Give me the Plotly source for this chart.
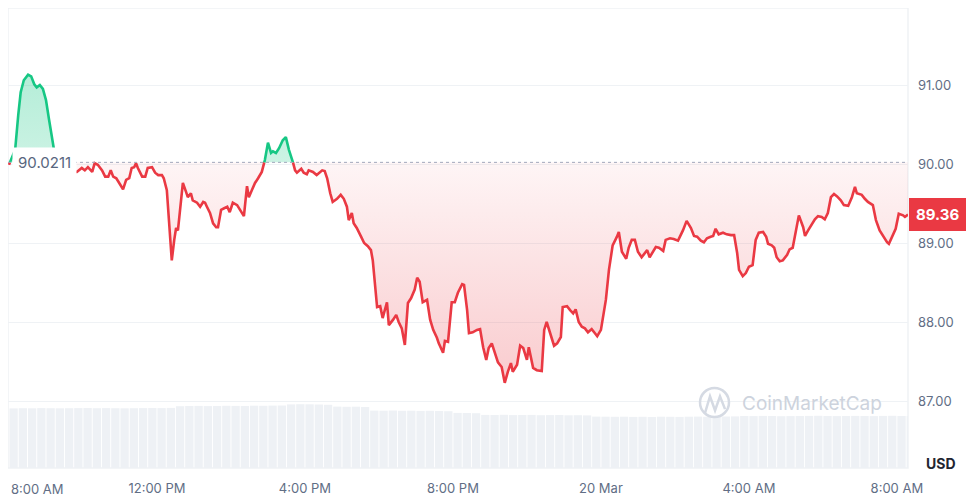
import numpy as np
import pandas as pd
import plotly.graph_objects as go

# ----------------------------------
# DATA
# ----------------------------------

START = pd.Timestamp("2025-03-19 08:00")
OPEN_PRICE = 90.0211
LAST_PRICE = 89.36

# minutes after 08:00 on 19 Mar
minutes = [
    0, 10, 15, 19, 24, 31, 36, 41, 45, 50, 55, 60, 65, 70, 73, 79, 89, 99, 105, 110,
    118, 123, 128, 135, 139, 144, 151, 156, 161, 165, 169, 174, 178, 185, 190, 195, 199, 203, 206, 209,
    216, 221, 225, 232, 237, 242,
    248, 251, 256, 258, 261, 264, 268, 271, 274, 279, 282, 287, 290, 295, 298, 305, 310, 315, 318, 321,
    326, 331, 336, 339, 344, 349, 354, 358, 363, 370, 373, 378, 381, 386, 389, 394, 399, 404, 410, 415,
    420, 425, 428, 433, 438, 444, 449, 454, 461, 464, 467, 474, 478, 483, 486,
    493, 499, 508, 512, 516, 521, 525, 532, 538, 543, 548, 551, 556, 559, 564, 571, 576, 582, 587, 590,
    594, 597, 602, 606, 613, 616, 623, 628, 632, 637, 642, 647, 652, 658, 662, 666, 671, 678, 683, 688,
    694, 697, 704, 707, 712, 718, 723, 728,
    735, 738, 743, 746, 752, 759, 764, 769, 774, 778, 783, 788, 793, 799, 804, 809, 814, 817, 824, 829,
    834, 840, 843, 850, 856, 864, 868, 872, 879, 884, 889, 895, 898, 905, 910, 915, 919, 924, 929, 934,
    939, 945, 950, 954, 960, 963, 968, 973,
    975, 979, 986, 989, 994, 1001, 1005, 1010, 1015, 1020, 1026, 1031, 1035, 1039, 1044, 1049, 1054, 1061, 1065, 1072,
    1078, 1085, 1093, 1099, 1106, 1111, 1116, 1122, 1127, 1132, 1138, 1142, 1146, 1151, 1158, 1164, 1171, 1176, 1181, 1184,
    1190, 1195, 1200, 1206, 1211, 1216,
    1223, 1228, 1231, 1237, 1241, 1245, 1250, 1255, 1262, 1266, 1271, 1281, 1288, 1291, 1296, 1302, 1307, 1312, 1318, 1323,
    1328, 1333, 1338, 1343, 1349, 1354, 1361, 1367, 1372, 1375, 1383, 1388, 1393, 1401, 1406, 1412, 1417, 1424, 1427, 1434,
    1438, 1443, 1450, 1453, 1458,
]

prices = [
    89.99, 90.18, 90.62, 90.91, 91.06, 91.13, 91.11, 91.01, 90.97, 91.00, 90.95, 90.81, 90.56, 90.30, 90.18, 90.16, 90.10, 89.97, 89.90, 89.90,
    89.95, 89.92, 89.96, 89.90, 90.01, 89.99, 89.92, 89.84, 89.84, 89.92, 89.84, 89.82, 89.77, 89.68, 89.80, 89.82, 89.95, 89.96, 90.01, 89.95,
    89.84, 89.84, 89.95, 89.96, 89.89, 89.86,
    89.86, 89.82, 89.67, 89.46, 89.16, 88.78, 89.04, 89.19, 89.16, 89.51, 89.76, 89.65, 89.58, 89.63, 89.54, 89.51, 89.46, 89.52, 89.51, 89.46,
    89.38, 89.25, 89.20, 89.20, 89.42, 89.44, 89.46, 89.39, 89.51, 89.48, 89.44, 89.39, 89.34, 89.72, 89.58, 89.67, 89.76, 89.82, 89.90, 90.05,
    90.27, 90.14, 90.16, 90.14, 90.20, 90.30, 90.34, 90.18, 90.01, 89.92, 89.89, 89.94, 89.89, 89.87, 89.92,
    89.90, 89.86, 89.92, 89.91, 89.82, 89.63, 89.52, 89.56, 89.61, 89.56, 89.46, 89.29, 89.38, 89.25, 89.19, 89.08, 89.00, 88.96, 88.91, 88.78,
    88.49, 88.19, 88.20, 88.05, 88.25, 87.96, 88.03, 88.09, 88.00, 87.92, 87.71, 88.24, 88.30, 88.41, 88.56, 88.51, 88.25, 88.28, 88.03, 87.90,
    87.80, 87.73, 87.61, 87.76, 87.75, 88.25, 88.25, 88.37,
    88.48, 88.47, 88.15, 87.86, 87.87, 87.90, 87.91, 87.68, 87.52, 87.67, 87.73, 87.62, 87.49, 87.43, 87.23, 87.37, 87.48, 87.37, 87.46, 87.70,
    87.67, 87.52, 87.68, 87.42, 87.39, 87.38, 87.90, 88.00, 87.84, 87.70, 87.73, 87.81, 88.19, 88.20, 88.15, 88.11, 88.16, 88.00, 87.94, 87.92,
    87.87, 87.91, 87.86, 87.82, 87.90, 88.03, 88.28, 88.66,
    88.78, 88.97, 89.08, 89.14, 88.89, 88.80, 88.94, 89.04, 89.04, 88.89, 88.82, 88.87, 88.91, 88.82, 88.89, 88.95, 88.94, 88.90, 89.04, 89.06,
    89.05, 89.03, 89.16, 89.28, 89.19, 89.09, 89.08, 89.03, 89.01, 89.06, 89.08, 89.09, 89.18, 89.11, 89.13, 89.11, 89.10, 89.10, 88.87, 88.66,
    88.58, 88.62, 88.70, 88.72, 89.04, 89.13,
    89.14, 89.08, 88.99, 88.97, 88.94, 88.82, 88.77, 88.78, 88.85, 88.92, 88.94, 89.35, 89.20, 89.09, 89.16, 89.23, 89.30, 89.34, 89.33, 89.30,
    89.38, 89.58, 89.62, 89.59, 89.54, 89.48, 89.47, 89.58, 89.71, 89.63, 89.61, 89.56, 89.52, 89.48, 89.29, 89.16, 89.09, 89.01, 88.99, 89.10,
    89.18, 89.37, 89.35, 89.33, 89.36,
]

# 15 minute volume bars (millions USD)
VOL_STEP = 15
volume_m = [
    59.6, 59.8, 59.7, 59.9, 59.8, 59.7, 59.8, 59.9, 60.0, 59.8, 59.9, 59.8, 59.7, 59.8, 59.9, 60.0, 59.9, 60.1,
    61.8, 62.0, 62.1, 61.9, 62.0, 62.2, 62.1, 62.0, 62.3, 62.2, 62.4, 62.5,
    63.6, 63.8, 63.7, 63.5, 63.2,
    61.4, 61.2, 61.3, 61.0,
    57.4, 57.3, 57.5, 57.2, 57.3, 57.1, 57.2, 57.0, 56.8,
    55.1, 55.0, 54.8,
    53.1, 53.0, 53.2, 52.9, 53.0, 53.1, 52.8, 52.9, 53.0, 52.7, 52.8, 52.6,
    51.4, 51.3, 51.2, 51.3, 51.1, 51.2, 51.0, 51.3, 51.2, 51.1, 51.3, 51.4, 51.2, 51.3, 51.5, 51.6,
    52.0, 51.9, 52.1, 52.0, 51.8, 51.9, 52.0, 52.1, 52.2, 52.0, 51.9, 52.0, 52.1, 52.0, 51.9, 52.1, 52.2, 52.0, 52.1,
]

y_ticks = [87, 88, 89, 90, 91]
x_tick_times = ["2025-03-19 12:00", "2025-03-19 16:00", "2025-03-19 20:00",
                "2025-03-20 00:00", "2025-03-20 04:00", "2025-03-20 08:00"]
x_tick_labels = ["12:00 PM", "4:00 PM", "8:00 PM", "20 Mar", "4:00 AM", "8:00 AM"]

# ----------------------------------
# COLOURS
# ----------------------------------

RED = "#ea3943"
GREEN = "#16c784"
GRID = "#eff2f5"
TEXT = "#616e85"


# ----------------------------------
# SPLIT LINE AT OPEN PRICE
# ----------------------------------

def split_at_base(mins, vals, base):
    xs, ys = [mins[0]], [vals[0]]
    for i in range(1, len(mins)):
        a = vals[i - 1] - base
        b = vals[i] - base
        if a * b < 0:
            f = a / (a - b)
            xs.append(mins[i - 1] + f * (mins[i] - mins[i - 1]))
            ys.append(base)
        xs.append(mins[i])
        ys.append(vals[i])
    return np.array(xs), np.array(ys)


xs, ys = split_at_base(minutes, prices, OPEN_PRICE)
times = START + pd.to_timedelta(xs, unit="m")

below = np.where(ys <= OPEN_PRICE, ys, np.nan)
above = np.where(ys >= OPEN_PRICE, ys, np.nan)
base_line = np.full(len(ys), OPEN_PRICE)

vol_times = START + pd.to_timedelta(np.arange(len(volume_m)) * VOL_STEP + VOL_STEP / 2, unit="m")

# ----------------------------------
# FIGURE
# ----------------------------------

fig = go.Figure()

fig.add_trace(go.Bar(
    x=vol_times, y=volume_m, yaxis="y2",
    marker=dict(color="#eef1f5", line=dict(width=0)),
    hoverinfo="skip"
))

fig.add_trace(go.Scatter(
    x=times, y=base_line, mode="lines",
    line=dict(width=0), hoverinfo="skip"
))
fig.add_trace(go.Scatter(
    x=times, y=np.minimum(ys, OPEN_PRICE), mode="lines",
    line=dict(width=0), fill="tonexty",
    fillgradient=dict(
        type="vertical",
        colorscale=[[0, "rgba(234,57,67,0.26)"], [1, "rgba(234,57,67,0.05)"]]
    ),
    hoverinfo="skip"
))
fig.add_trace(go.Scatter(
    x=times, y=base_line, mode="lines",
    line=dict(width=0), hoverinfo="skip"
))
fig.add_trace(go.Scatter(
    x=times, y=np.maximum(ys, OPEN_PRICE), mode="lines",
    line=dict(width=0), fill="tonexty",
    fillgradient=dict(
        type="vertical",
        colorscale=[[0, "rgba(22,199,132,0.22)"], [1, "rgba(22,199,132,0.32)"]]
    ),
    hoverinfo="skip"
))

fig.add_trace(go.Scatter(
    x=times, y=below, mode="lines",
    line=dict(color=RED, width=2.6)
))
fig.add_trace(go.Scatter(
    x=times, y=above, mode="lines",
    line=dict(color=GREEN, width=2.6)
))

# open price dotted line
fig.add_shape(
    type="line", xref="paper", x0=0, x1=1, yref="y", y0=OPEN_PRICE, y1=OPEN_PRICE,
    line=dict(color="#a1a7bb", width=1, dash="dot")
)

# frame
fig.add_shape(
    type="rect", xref="paper", yref="paper", x0=0, x1=1, y0=0, y1=1,
    line=dict(color=GRID, width=1.5), layer="below"
)

# watermark logo
fig.add_shape(
    type="circle", xref="paper", yref="paper",
    x0=0.7689, x1=0.8011, y0=0.1109, y1=0.1739,
    line=dict(color="#d5dae3", width=2.5)
)
fig.add_shape(
    type="path", xref="paper", yref="paper",
    path="M 0.7745 0.1200 L 0.7800 0.1560 L 0.7856 0.1250 L 0.7911 0.1560 L 0.7967 0.1280",
    line=dict(color="#d5dae3", width=2.5)
)

fig.add_annotation(
    xref="paper", yref="paper", x=0.813, y=0.141,
    text="CoinMarketCap", showarrow=False,
    xanchor="left", yanchor="middle",
    font=dict(size=19, color="#cdd3dd", family="Inter")
)

# open price label
fig.add_annotation(
    xref="x", yref="y", x=START, y=OPEN_PRICE,
    text="90.0211", showarrow=False,
    xanchor="left", yanchor="middle", xshift=3,
    bgcolor="white", borderpad=5,
    font=dict(size=15, color="#58667e", family="Inter")
)

# last price label
fig.add_annotation(
    xref="paper", yref="y", x=1, y=LAST_PRICE,
    text="<b>%.2f</b>" % LAST_PRICE, showarrow=False,
    xanchor="left", yanchor="middle", xshift=1,
    bgcolor=RED, bordercolor=RED, borderpad=6,
    font=dict(size=15, color="white", family="Inter")
)

# first time label (shifted inside the frame)
fig.add_annotation(
    xref="x", yref="paper", x=START, y=0,
    text="8:00 AM", showarrow=False,
    xanchor="left", yanchor="top", yshift=-11,
    font=dict(size=13, color=TEXT, family="Inter")
)

fig.add_annotation(
    xref="paper", yref="paper", x=1, y=0,
    text="<b>USD</b>", showarrow=False,
    xanchor="left", yanchor="bottom", xshift=16, yshift=-6,
    font=dict(size=14, color="#222531", family="Inter")
)

# page body adds 8px on the left and top, so the figure is 8px smaller
fig.update_layout(
    width=972, height=490,
    margin=dict(l=0, r=72, t=0, b=30),
    paper_bgcolor="white", plot_bgcolor="white",
    showlegend=False, bargap=0.1,
    font=dict(family="Inter", color=TEXT),
    xaxis=dict(
        range=[START - pd.Timedelta(minutes=1.6), START + pd.Timedelta(minutes=1458)],
        tickvals=pd.to_datetime(x_tick_times), ticktext=x_tick_labels,
        showgrid=False, zeroline=False, showline=False, ticks="",
        tickfont=dict(size=13, color=TEXT), ticklabelstandoff=11
    ),
    yaxis=dict(
        side="right", range=[86.152, 91.975],
        tickvals=y_ticks, ticktext=["%.2f" % v for v in y_ticks],
        showgrid=True, gridcolor=GRID, gridwidth=1,
        zeroline=False, showline=False, ticks="",
        tickfont=dict(size=13, color=TEXT), ticklabelstandoff=9
    ),
    yaxis2=dict(
        overlaying="y", range=[0, 460], visible=False
    )
)

fig.write_html("out.html")
